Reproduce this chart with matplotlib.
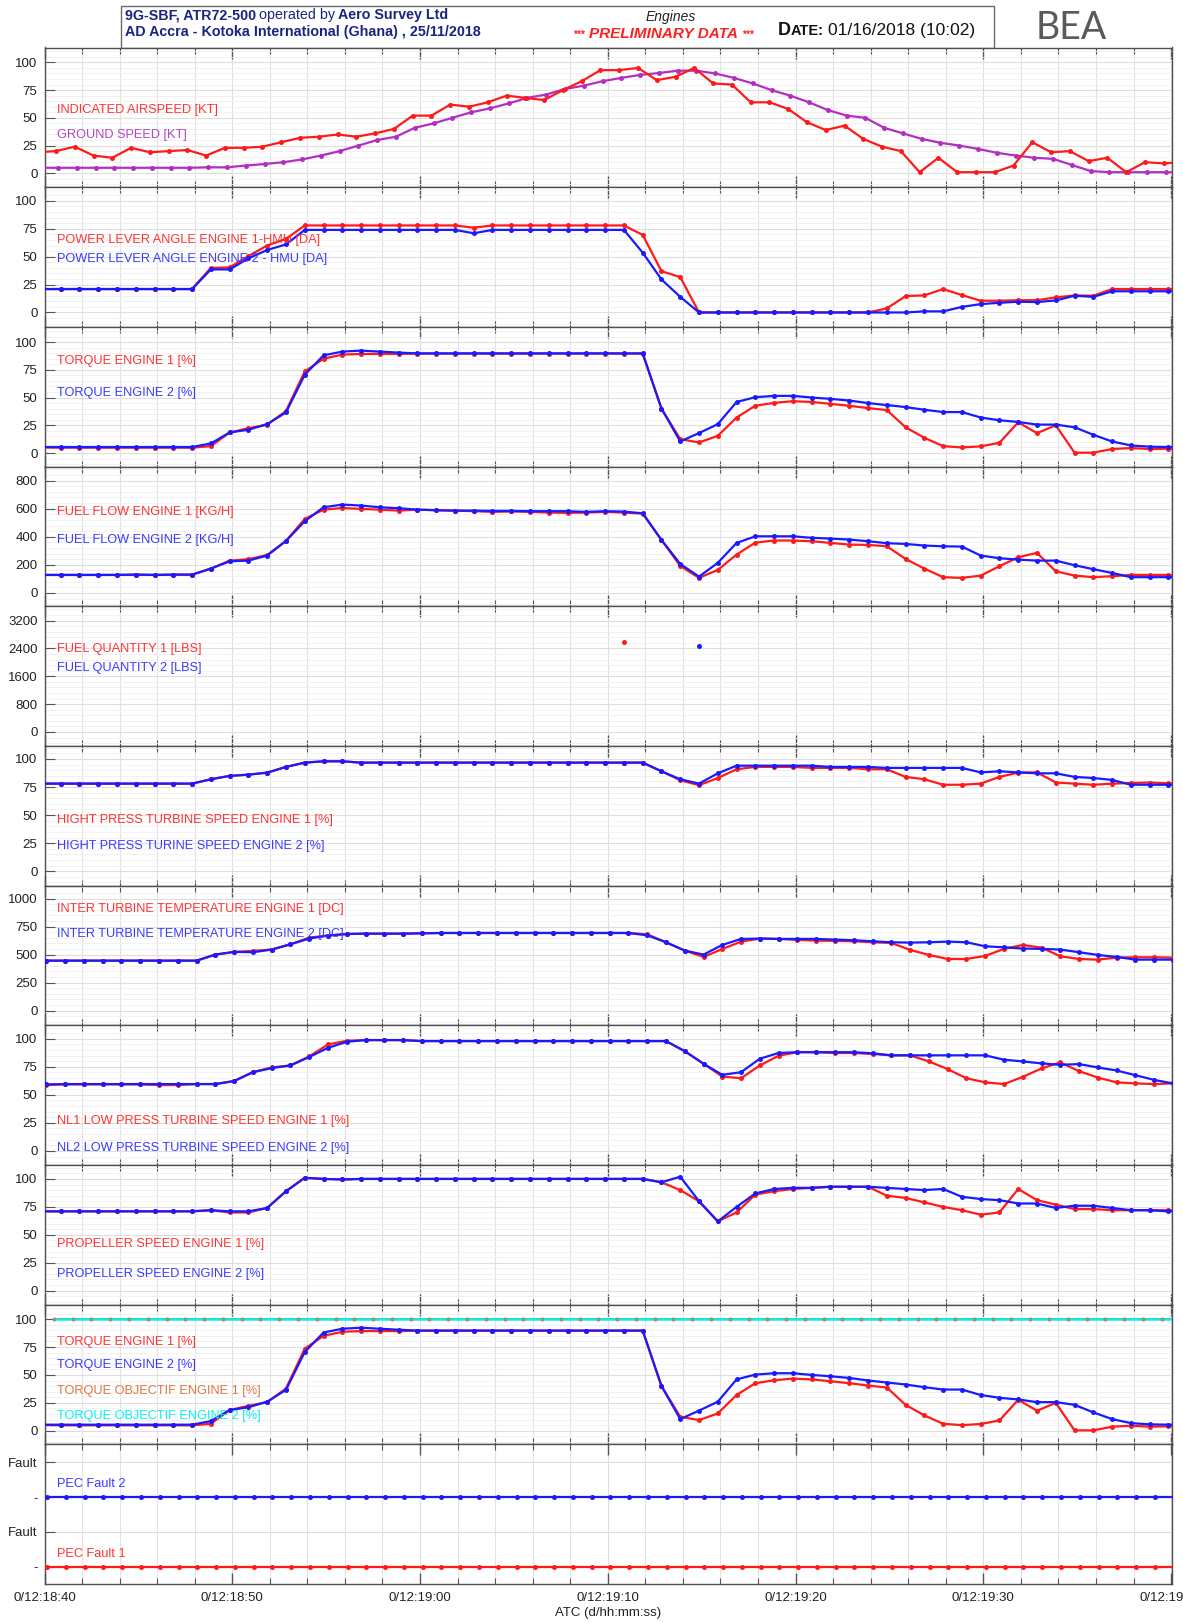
import numpy as np
import matplotlib
matplotlib.use('Agg')
import matplotlib.pyplot as plt
from matplotlib.ticker import MultipleLocator, FuncFormatter
from matplotlib.patches import Rectangle

plt.rcParams['font.family'] = ['Liberation Sans', 'DejaVu Sans']

# ---------------- DATA (time in s after 0/12:18:40) ----------------
t0_ias = -0.39
ias = [19, 20, 24, 16, 14, 23, 19, 20, 21, 16, 23, 23, 24, 28, 32, 33, 35, 33, 36, 40,
       52, 52, 62, 60, 64, 70, 68, 66, 75, 83, 93, 93, 95, 84, 87, 95, 81, 80, 64, 64,
       58, 46, 39, 43, 31, 24, 20, 1, 14, 1, 1, 1, 7, 28, 19, 20, 11, 14, 1, 10, 9, 10]
t0_gs = -0.28
gs = [5, 5, 5, 5, 5, 5, 5, 5, 5, 5.4, 5.4, 7, 8.4, 10, 12.5, 16, 20, 25, 30, 33, 41, 45,
      50, 55, 58.5, 63, 68, 71, 76, 79, 83, 86, 88.7, 90.4, 92.5, 92.5, 90, 86, 81, 75,
      70, 64, 57, 52, 50, 41, 36, 31, 27.5, 25, 22, 18.5, 16, 14, 13, 7.5, 2, 1, 1, 1, 1, 1]

t0_eng = -0.14   # PLA, torque, fuel flow, NH, NP sampling
pla1 = [21] * 9 + [40, 40.4, 50.6, 60, 66] + [78] * 9 + [76] + [78] * 8 + \
       [69.5, 37, 31.7] + [0] * 10 + [3.6, 14.7, 15.3, 21, 15.6, 10.5, 10.5, 11, 11, 13.5,
                                      15.3, 15, 21, 21, 21, 21, 21]
pla2 = [21] * 9 + [38.6, 38.6, 48.5, 56, 61] + [74] * 9 + [71] + [74] * 8 + \
       [53.6, 29.6, 14] + [0] * 10 + [0, 0, 1, 1, 5, 7.5, 8.7, 9.6, 9.3, 10.8,
                                      15, 14, 19, 19, 19, 19, 19]

tq1 = [5, 4.8, 4.8, 4.8, 4.8, 4.8, 4.8, 4.8, 4.8, 6.2, 18.5, 22.3, 25.6, 37.8, 73.5, 85,
       88.7, 89.3, 89.3, 89.3] + [89.6] * 13 + \
      [40, 12.5, 9.5, 15.5, 32, 42.6, 45.2, 46.7, 46, 44.3, 42.6, 40.5, 38.7, 23.2, 13.7,
       6.2, 5, 6, 9.2, 27.7, 17.9, 25, 0.3, 0.3, 3.6, 4.5, 3.6, 3.9, 3.9]
tq2 = [5.4] * 9 + [8.6, 18.5, 21, 26, 36.6, 70.5, 88, 91.4, 92.3, 91.4, 90.5] + [89.8] * 13 + \
      [40, 10.4, 18, 26, 46, 50.3, 51.5, 51.5, 50, 48.8, 47.3, 45, 43.2, 41.4, 39, 36.9,
       36.9, 32, 29.5, 28, 25.6, 25.6, 23.2, 16.4, 10.4, 6.8, 5.7, 5.4, 5.4]

ff1 = [128, 128, 128, 128, 128, 130, 128, 130, 130, 173, 230, 240, 270, 370, 527, 593, 605,
       598, 593, 586, 593, 589, 586, 582, 577, 580, 577, 572, 570, 572, 577, 572, 565, 377,
       192, 107, 164, 273, 358, 373, 373, 368, 356, 344, 342, 332, 242, 173, 112, 107, 123,
       190, 254, 285, 154, 123, 112, 119, 128, 128, 128, 128]
ff2 = [128, 128, 128, 128, 128, 130, 128, 130, 130, 173, 225, 230, 266, 370, 510, 610, 629,
       622, 610, 603, 593, 589, 586, 586, 584, 584, 582, 582, 582, 577, 582, 579, 567, 377,
       206, 116, 214, 356, 403, 403, 403, 392, 387, 380, 368, 354, 349, 337, 332, 330, 266,
       247, 237, 230, 230, 197, 169, 142, 112, 112, 112, 112]

fq1_t, fq1 = [30.86], [2570]
fq2_t, fq2 = [34.86], [2470]

nh1 = [78] * 9 + [81.9, 84.9, 86, 87.8, 92.9, 96.7, 97.9, 97.9] + [96.7] * 16 + \
      [89, 81, 76.6, 83, 90.8, 92.9, 92.9, 92.9, 92, 92, 92, 90.8, 90.8, 84, 81.9, 77, 77,
       78, 84, 87.8, 88, 79, 78, 77, 78, 78.6, 79, 78.3, 78.3]
nh2 = [78] * 9 + [81.9, 84.9, 86, 87.8, 92.9, 96.7, 97.9, 97.9] + [96.7] * 16 + \
      [89, 81.9, 78, 87.2, 94, 94, 94, 94, 94, 92.9, 92.9, 92.9, 92, 92, 92, 92, 92, 88, 89,
       88, 87.2, 87.2, 84, 83, 81.3, 77, 77, 77, 77]

t0_itt = -0.9    # ITT and NL sampling
itt1 = [446] * 10 + [500, 524, 533, 545, 592, 652, 670, 684, 687, 687, 687, 690] + [693] * 11 + \
       [681, 610, 536, 479, 550, 616, 643, 640, 631, 625, 622, 619, 610, 604, 542, 497, 461,
        461, 488, 551, 586, 562, 485, 461, 455, 473, 476, 476, 473]
itt2 = [446] * 10 + [500, 524, 521, 545, 592, 643, 670, 684, 687, 687, 687, 690] + [693] * 11 + \
       [672, 610, 536, 500, 586, 640, 643, 640, 640, 640, 634, 628, 619, 610, 607, 610, 616,
        610, 574, 565, 554, 551, 545, 521, 497, 479, 455, 455, 455]

nl1 = [58.7, 58.7, 59.3, 59.3, 59.3, 59.3, 59.3, 58.7, 58.7, 59.6, 59.6, 62.3, 70.2, 74.4,
       76.2, 84.3, 94.9, 98.2, 98.8, 98.8, 98.8] + [97.9] * 14 + \
      [88.9, 77.7, 66.3, 64.8, 76.2, 84.9, 88, 88, 87.3, 87.3, 86.4, 85.2, 85.2, 79.8, 72.9,
       64.8, 61.1, 59.6, 66, 73.5, 78.9, 71.1, 65.4, 61.1, 60.2, 59.6, 60.2]
nl2 = [59.3, 59.3, 59.6, 59.6, 59.6, 59.6, 59.6, 59.6, 59.6, 59.6, 59.6, 62.3, 70.2, 73.8,
       76.2, 83.7, 91.9, 97.3, 98.8, 98.8, 98.8] + [97.9] * 14 + \
      [88.9, 77.7, 67.8, 70.2, 82.2, 87.3, 88, 88, 88, 88, 87, 85.2, 85.2, 85.2, 85.2, 85.2,
       85.2, 81.3, 79.8, 78, 76.8, 77.4, 74.4, 71.7, 67.5, 63.3, 60.2]

np1 = [71] * 9 + [72, 70, 70, 74, 89, 101, 100, 99.5] + [100] * 16 + \
      [97, 90, 80, 62, 70, 86, 89, 91, 92, 93, 93, 93, 85, 83, 79, 75, 72, 68, 70, 91,
       81, 77, 73, 73, 72, 72, 72, 72, 72]
np2 = [71] * 9 + [72, 71, 71, 74, 89, 101, 100, 99.5] + [100] * 16 + \
      [97, 102, 80, 62, 75, 87, 91, 92, 92, 93, 93, 93, 92, 91, 90, 91, 84, 82, 81, 78,
       78, 74, 76, 76, 74, 72, 72, 71, 71]

t0_obj = 0.5
obj1 = [100] * 61
obj2 = [100] * 61

t0_pec = 0.14
pec1 = [0] * 61
pec2 = [0] * 61

xtick_seconds = [0, 10, 20, 30, 40, 50, 60]


def times(t0, vals):
    return t0 + np.arange(len(vals))


# ---------------- FIGURE ----------------
W, H = 1183, 1622
fig = plt.figure(figsize=(W / 100, H / 100), dpi=100)
fig.patch.set_facecolor('white')

left_px, right_px = 44.5, 1172
top_px, bot_px = 47.5, 1584
NP = 11
ph = (bot_px - top_px) / NP

RED, BLUE, MAG = '#ff1a1a', '#1a1aff', '#b22fc2'
TRED, TBLUE, TMAG = '#ff3333', '#3a3aff', '#b544c4'
ORANGE, CYAN = '#e3763f', '#00f2f2'


def make_ax(i, ylim, yticks, ystep, yticklabels=None, bottom=False):
    y_top = top_px + i * ph
    ax = fig.add_axes([left_px / W, 1 - (y_top + ph) / H, (right_px - left_px) / W, ph / H])
    ax.set_xlim(0, 60.05)
    ax.set_ylim(*ylim)
    ax.xaxis.set_major_locator(MultipleLocator(10))
    ax.xaxis.set_minor_locator(MultipleLocator(2))
    ax.set_yticks(yticks)
    if yticklabels is not None:
        ax.set_yticklabels(yticklabels)
    if ystep:
        ax.yaxis.set_minor_locator(MultipleLocator(ystep))
    ax.tick_params(axis='x', which='both', direction='in', top=True, bottom=True,
                   labelbottom=bottom, color='#555555', labelcolor='#222222', labelsize=9.5, pad=6)
    ax.tick_params(axis='x', which='major', length=8, width=1.0)
    ax.tick_params(axis='x', which='minor', length=4.5, width=0.8)
    ax.tick_params(axis='y', which='major', direction='in', length=7.5, width=0.8,
                   left=True, right=False, labelsize=9.5, pad=5, color='#555555',
                   labelcolor='#222222')
    ax.tick_params(axis='y', which='minor', left=False, right=False, length=0)
    ax.grid(True, which='major', axis='both', color='#dedede', lw=0.8)
    ax.grid(True, which='minor', axis='x', color='#e2e2e2', lw=0.8)
    ax.grid(True, which='minor', axis='y', color='#f0f0f0', lw=0.6)
    ax.set_axisbelow(True)
    for s in ax.spines.values():
        s.set_color('#505050')
        s.set_linewidth(1.0)
    if bottom:
        ax.xaxis.set_major_formatter(FuncFormatter(
            lambda x, p: "0/12:%02d:%02d" % (18 + (40 + int(round(x))) // 60, (40 + int(round(x))) % 60)))
    return ax


def series(ax, t, v, color, z=3):
    ax.plot(t, v, color=color, lw=1.6, marker='o', ms=3.6, mec='none', zorder=z)


def label(ax, y, s, color):
    ax.text(0.011, y, s, transform=ax.transAxes, color=color, fontsize=9.2, va='center',
            ha='left', zorder=6)


# 1 airspeed
ax = make_ax(0, (-12.5, 113.4), [0, 25, 50, 75, 100], 5)
series(ax, times(t0_gs, gs), gs, MAG)
series(ax, times(t0_ias, ias), ias, RED, 4)
label(ax, 0.55, 'INDICATED AIRSPEED [KT]', TRED)
label(ax, 0.37, 'GROUND SPEED [KT]', TMAG)

# 2 PLA
ax = make_ax(1, (-12.9, 112.3), [0, 25, 50, 75, 100], 5)
series(ax, times(t0_eng, pla1), pla1, RED)
series(ax, times(t0_eng, pla2), pla2, BLUE, 4)
label(ax, 0.625, 'POWER LEVER ANGLE ENGINE 1-HMU [DA]', TRED)
label(ax, 0.485, 'POWER LEVER ANGLE ENGINE 2 - HMU [DA]', TBLUE)

# 3 torque
ax = make_ax(2, (-12.2, 113.7), [0, 25, 50, 75, 100], 5)
series(ax, times(t0_eng, tq1), tq1, RED)
series(ax, times(t0_eng, tq2), tq2, BLUE, 4)
label(ax, 0.754, 'TORQUE ENGINE 1 [%]', TRED)
label(ax, 0.523, 'TORQUE ENGINE 2 [%]', TBLUE)

# 4 fuel flow
ax = make_ax(3, (-95, 900), [0, 200, 400, 600, 800], 40)
series(ax, times(t0_eng, ff1), ff1, RED)
series(ax, times(t0_eng, ff2), ff2, BLUE, 4)
label(ax, 0.678, 'FUEL FLOW ENGINE 1 [KG/H]', TRED)
label(ax, 0.475, 'FUEL FLOW ENGINE 2 [KG/H]', TBLUE)

# 5 fuel quantity
ax = make_ax(4, (-400, 3610), [0, 800, 1600, 2400, 3200], 160)
ax.plot(fq1_t, fq1, ls='none', marker='o', ms=3.6, color=RED, mec='none')
ax.plot(fq2_t, fq2, ls='none', marker='o', ms=3.6, color=BLUE, mec='none')
label(ax, 0.697, 'FUEL QUANTITY 1 [LBS]', TRED)
label(ax, 0.556, 'FUEL QUANTITY 2 [LBS]', TBLUE)

# 6 NH
ax = make_ax(5, (-12.8, 111.6), [0, 25, 50, 75, 100], 5)
series(ax, times(t0_eng, nh1), nh1, RED)
series(ax, times(t0_eng, nh2), nh2, BLUE, 4)
label(ax, 0.468, 'HIGHT PRESS TURBINE SPEED ENGINE 1 [%]', TRED)
label(ax, 0.282, 'HIGHT PRESS TURINE SPEED ENGINE 2 [%]', TBLUE)

# 7 ITT
ax = make_ax(6, (-131, 1116), [0, 250, 500, 750, 1000], 50)
series(ax, times(t0_itt, itt1), itt1, RED)
series(ax, times(t0_itt, itt2), itt2, BLUE, 4)
label(ax, 0.835, 'INTER TURBINE TEMPERATURE ENGINE 1 [DC]', TRED)
label(ax, 0.656, 'INTER TURBINE TEMPERATURE ENGINE 2 [DC]', TBLUE)

# 8 NL
ax = make_ax(7, (-12.5, 112.0), [0, 25, 50, 75, 100], 5)
series(ax, times(t0_itt, nl1), nl1, RED)
series(ax, times(t0_itt, nl2), nl2, BLUE, 4)
label(ax, 0.313, 'NL1 LOW PRESS TURBINE SPEED ENGINE 1 [%]', TRED)
label(ax, 0.12, 'NL2 LOW PRESS TURBINE SPEED ENGINE 2 [%]', TBLUE)

# 9 NP
ax = make_ax(8, (-12.5, 112.5), [0, 25, 50, 75, 100], 5)
series(ax, times(t0_eng, np1), np1, RED)
series(ax, times(t0_eng, np2), np2, BLUE, 4)
label(ax, 0.435, 'PROPELLER SPEED ENGINE 1 [%]', TRED)
label(ax, 0.22, 'PROPELLER SPEED ENGINE 2 [%]', TBLUE)

# 10 torque + objectif
ax = make_ax(9, (-12.2, 113.0), [0, 25, 50, 75, 100], 5)
ax.plot(times(t0_obj, obj1), obj1, color=ORANGE, lw=1.4, zorder=2)
ax.plot(times(t0_obj, obj2), obj2, color=CYAN, lw=1.8, zorder=3)
ax.plot(times(t0_obj, obj1), obj1, ls='none', marker='o', ms=3.0, color='#8e9a78',
        mec='none', zorder=4)
series(ax, times(t0_eng, tq1), tq1, RED)
series(ax, times(t0_eng, tq2), tq2, BLUE, 4)
label(ax, 0.735, 'TORQUE ENGINE 1 [%]', TRED)
label(ax, 0.57, 'TORQUE ENGINE 2 [%]', TBLUE)
label(ax, 0.385, 'TORQUE OBJECTIF ENGINE 1 [%]', ORANGE)
label(ax, 0.2, 'TORQUE OBJECTIF ENGINE 2 [%]', CYAN)

# 11 PEC faults
ax = make_ax(10, (-0.5, 3.52), [0, 1, 2, 3], None, ['-', 'Fault', '-', 'Fault'], bottom=True)
ax.xaxis.set_ticks(xtick_seconds)
series(ax, times(t0_pec, pec2), np.array(pec2) + 2, BLUE)
series(ax, times(t0_pec, pec1), pec1, RED)
label(ax, 0.716, 'PEC Fault 2', TBLUE)
label(ax, 0.213, 'PEC Fault 1', TRED)
ax.set_xlabel('ATC (d/hh:mm:ss)', fontsize=9.5, color='#222222', labelpad=2)

# ---------------- HEADER ----------------
fig.add_artist(Rectangle((121 / W, 1 - 47.5 / H), (994 - 121) / W, (47.5 - 6) / H,
                         transform=fig.transFigure, facecolor='white', edgecolor='#6a6a6a',
                         lw=1.0, zorder=0))
renderer = fig.canvas.get_renderer()


def chain(x_px, y_px, pieces):
    x = x_px
    for s, gap, kw in pieces:
        x += gap
        t = fig.text(x / W, 1 - y_px / H, s, va='baseline', ha='left', **kw)
        x += t.get_window_extent(renderer=renderer).width


NAVY = '#1b2580'
chain(125, 19.5, [('9G-SBF, ATR72-500', 0, dict(fontsize=10.3, weight='bold', color=NAVY)),
                  ('operated by', 3, dict(fontsize=10.3, color=NAVY)),
                  ('Aero Survey Ltd', 3, dict(fontsize=10.3, weight='bold', color=NAVY))])
fig.text(125 / W, 1 - 36 / H, 'AD Accra - Kotoka International (Ghana) , 25/11/2018',
         fontsize=10.3, weight='bold', color=NAVY, va='baseline', ha='left')
fig.text(671 / W, 1 - 17 / H, 'Engines', fontsize=10, style='italic', color='#222222',
         ha='center', va='center')
chain(573, 38, [('***', 0, dict(fontsize=7.5, weight='bold', color='#ff2020')),
                ('PRELIMINARY DATA', 4, dict(fontsize=11, weight='bold', style='italic',
                                             color='#ff2020')),
                ('***', 4, dict(fontsize=7.5, weight='bold', color='#ff2020'))])
chain(778, 35, [('D', 0, dict(fontsize=13, weight='bold', color='#111111')),
                ('ATE:', 0, dict(fontsize=10.5, weight='bold', color='#111111')),
                ('01/16/2018 (10:02)', 4, dict(fontsize=12.5, color='#111111'))])
fig.text(1071 / W, 1 - 28 / H, 'BEA', fontsize=27, color='#5a5a5a', ha='center',
         va='center', family=['Lato', 'Open Sans', 'DejaVu Sans'])

fig.savefig('out.png', dpi=100, facecolor='white')
